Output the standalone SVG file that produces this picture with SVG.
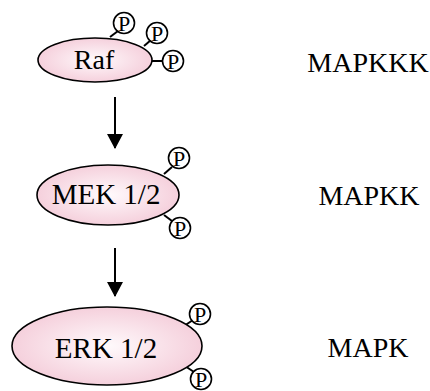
<svg xmlns="http://www.w3.org/2000/svg" width="430" height="391" viewBox="0 0 430 391">
  <style>
    .protein { stroke: #000; stroke-width: 1.6; fill: url(#pinkFill); }
    .phos { stroke: #000; stroke-width: 1.6; fill: #fff; }
    .bond { stroke: #000; stroke-width: 2; }
    .name { font-family: "Liberation Serif", "Times New Roman", serif; font-size: 29px; fill: #000; text-anchor: middle; }
    .p { font-family: "Liberation Serif", "Times New Roman", serif; font-size: 22px; fill: #000; text-anchor: middle; }
    .tier { font-family: "Liberation Serif", "Times New Roman", serif; font-size: 28px; fill: #000; text-anchor: middle; }
    .flow { stroke: #000; stroke-width: 2; fill: none; marker-end: url(#head); }
  </style>
  <defs>
    <radialGradient id="pinkFill" cx="50%" cy="50%" r="50%">
      <stop offset="0" stop-color="#fffafc"/>
      <stop offset="1" stop-color="#f5d0dc"/>
    </radialGradient>
    <marker id="head" viewBox="0 0 15 16" refX="14" refY="8" markerWidth="15" markerHeight="16" markerUnits="userSpaceOnUse" orient="auto">
      <path d="M0,0 L15,8 L0,16 Z" fill="#000"/>
    </marker>
  </defs>

  <g id="connectors">
    <line class="flow" x1="115" y1="97" x2="115" y2="148"/>
    <line class="flow" x1="115" y1="248" x2="115" y2="296"/>
  </g>

  <g id="raf">
    <line class="bond" x1="110" y1="37" x2="118" y2="31"/>
    <line class="bond" x1="144" y1="46" x2="151" y2="40"/>
    <line class="bond" x1="150" y1="61" x2="163" y2="61"/>
    <ellipse class="protein" cx="95" cy="60" rx="57" ry="22"/>
    <text class="name" x="94" y="69" style="font-size:28px">Raf</text>
    <circle class="phos" cx="124" cy="23" r="10.5"/>
    <text class="p" x="124" y="30.5">P</text>
    <circle class="phos" cx="157" cy="33" r="10.5"/>
    <text class="p" x="157" y="40.5">P</text>
    <circle class="phos" cx="173" cy="61" r="10.5"/>
    <text class="p" x="173" y="68.5">P</text>
  </g>

  <g id="mek">
    <line class="bond" x1="164" y1="174" x2="172" y2="167"/>
    <line class="bond" x1="164" y1="215" x2="172" y2="221"/>
    <ellipse class="protein" cx="108" cy="195" rx="71" ry="30"/>
    <text class="name" x="106" y="204">MEK 1/2</text>
    <circle class="phos" cx="179" cy="158" r="10.5"/>
    <text class="p" x="179" y="165.5">P</text>
    <circle class="phos" cx="180" cy="228" r="10.5"/>
    <text class="p" x="180" y="235.5">P</text>
  </g>

  <g id="erk">
    <line class="bond" x1="184" y1="326" x2="193" y2="320"/>
    <line class="bond" x1="185" y1="366" x2="194" y2="372"/>
    <ellipse class="protein" cx="107" cy="346" rx="95" ry="39"/>
    <text class="name" x="106" y="358">ERK 1/2</text>
    <circle class="phos" cx="200" cy="314" r="10.5"/>
    <text class="p" x="200" y="321.5">P</text>
    <circle class="phos" cx="201" cy="379" r="10.5"/>
    <text class="p" x="201" y="386.5">P</text>
  </g>

  <g id="tiers">
    <text class="tier" x="368" y="72">MAPKKK</text>
    <text class="tier" x="369" y="205">MAPKK</text>
    <text class="tier" x="368" y="357">MAPK</text>
  </g>
</svg>
